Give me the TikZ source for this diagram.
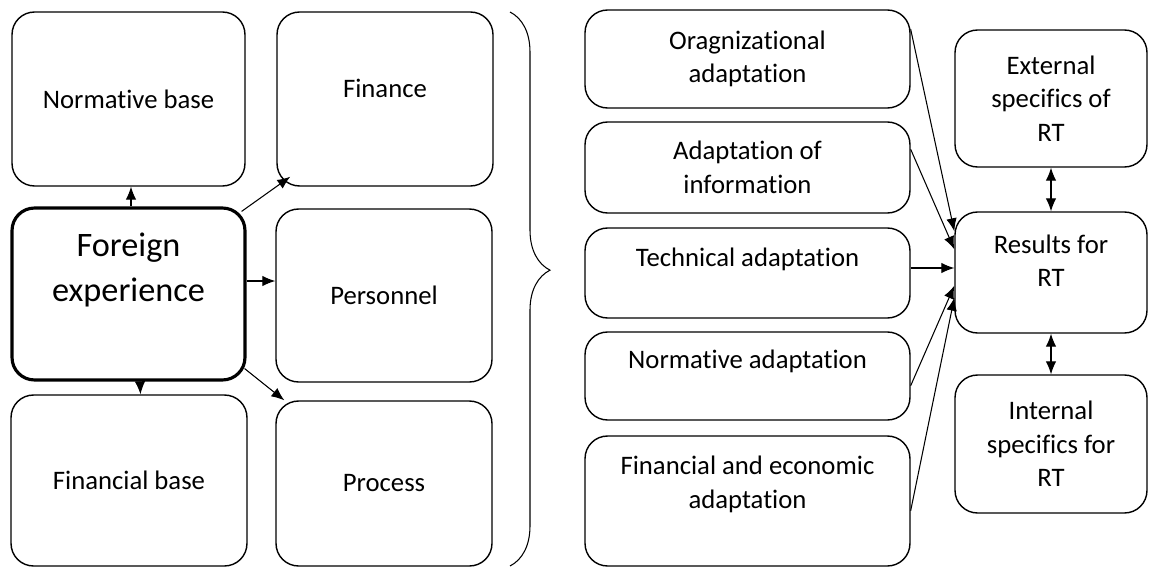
\documentclass[tikz,border=0pt]{standalone}
\usepackage{fontspec}
\setmainfont[Ligatures=NoCommon]{Carlito}
\usetikzlibrary{arrows.meta,decorations.pathreplacing}

\tikzset{
	box/.style={draw, rounded corners=0.45cm, line width=0.8pt, inner sep=0pt, align=center, font=\fontsize{15.2}{19}\selectfont},
	mainbox/.style={box, line width=1.8pt},
	every label/.style={align=center, font=\fontsize{15.2}{19}\selectfont},
	arr/.style={-{Latex[length=2.6mm,width=2.1mm]}, line width=0.6pt},
	darr/.style={{Latex[length=2.6mm,width=2.1mm]}-{Latex[length=2.6mm,width=2.1mm]}, line width=0.6pt},
}

\begin{document}
\begin{tikzpicture}[x=0.02cm, y=-0.02cm]
	\useasboundingbox (0,0) rectangle (1149,571);
	\node[box, minimum width=4.66cm, minimum height=3.48cm] (nb) at (128.5,99) {Normative base};
	\node[mainbox, minimum width=4.66cm, minimum height=3.44cm, label={[font=\fontsize{19.5}{26}\selectfont, yshift=0.48cm]center:Foreign\\experience}] (fe) at (128.5,294) {};
	\node[box, minimum width=4.72cm, minimum height=3.42cm] (fb) at (129,480.5) {Financial base};
	\node[box, minimum width=4.32cm, minimum height=3.48cm, label={[yshift=0.22cm]center:Finance}] (fin) at (385,99) {};
	\node[box, minimum width=4.32cm, minimum height=3.46cm] (per) at (384,295.5) {Personnel};
	\node[box, minimum width=4.32cm, minimum height=3.3cm] (pro) at (384,483.5) {Process};
	\draw[decorate, decoration={brace, amplitude=0.8cm, aspect=0.466}, line width=0.6pt] (510,12) -- (510,566);
	\node[box, minimum width=6.5cm, minimum height=1.96cm] (org) at (747.5,59) {Oragnizational\\adaptation};
	\node[box, minimum width=6.5cm, minimum height=1.82cm] (info) at (747.5,167.5) {Adaptation of\\information};
	\node[box, minimum width=6.5cm, minimum height=1.8cm, label={[yshift=0.28cm]center:Technical adaptation}] (tech) at (747.5,273) {};
	\node[box, minimum width=6.5cm, minimum height=1.76cm, label={[yshift=0.3cm]center:Normative adaptation}] (norm) at (747.5,376) {};
	\node[box, minimum width=6.5cm, minimum height=2.6cm, label={[yshift=0.33cm]center:Financial and economic\\adaptation}] (fea) at (747.5,501) {};
	\node[box, minimum width=3.84cm, minimum height=2.74cm] (ext) at (1051,98.5) {External\\specifics of\\RT};
	\node[box, minimum width=3.84cm, minimum height=2.42cm, label={[yshift=0.24cm]center:Results for\\RT}] (res) at (1051,272.5) {};
	\node[box, minimum width=3.84cm, minimum height=2.76cm] (int) at (1051,444) {Internal\\specifics for\\RT};
	\draw[arr] ([xshift=0.05cm]fe.north) -- ([xshift=0.05cm]nb.south);
	\draw[arr] ([xshift=0.23cm]fe.south) -- ([xshift=0.23cm]fb.north);
	\draw[arr] ([shift={(-5,5)}]fe.north east) -- ([shift={(14,-10)}]fin.south west);
	\draw[arr] ([yshift=0.26cm]fe.east) -- ([yshift=0.26cm]fe.east -| per.west);
	\draw[arr] ([shift={(-2,-13)}]fe.south east) -- ([shift={(9,0)}]pro.north west);
	\draw[arr] ([yshift=-0.4cm]org.north east) -- ([yshift=-0.4cm]res.north west);
	\draw[arr] ([yshift=-0.56cm]info.north east) -- ([yshift=-0.76cm]res.north west);
	\draw[arr] ([yshift=0.1cm]tech.east) -- ([yshift=0.1cm]tech.east -| res.west);
	\draw[arr] ([yshift=0.7cm]norm.south east) -- ([yshift=0.96cm]res.south west);
	\draw[arr] ([yshift=1.12cm]fea.south east) -- ([yshift=0.72cm]res.south west);
	\draw[darr] (ext.south) -- (res.north);
	\draw[darr] (res.south) -- (int.north);
\end{tikzpicture}
\end{document}
